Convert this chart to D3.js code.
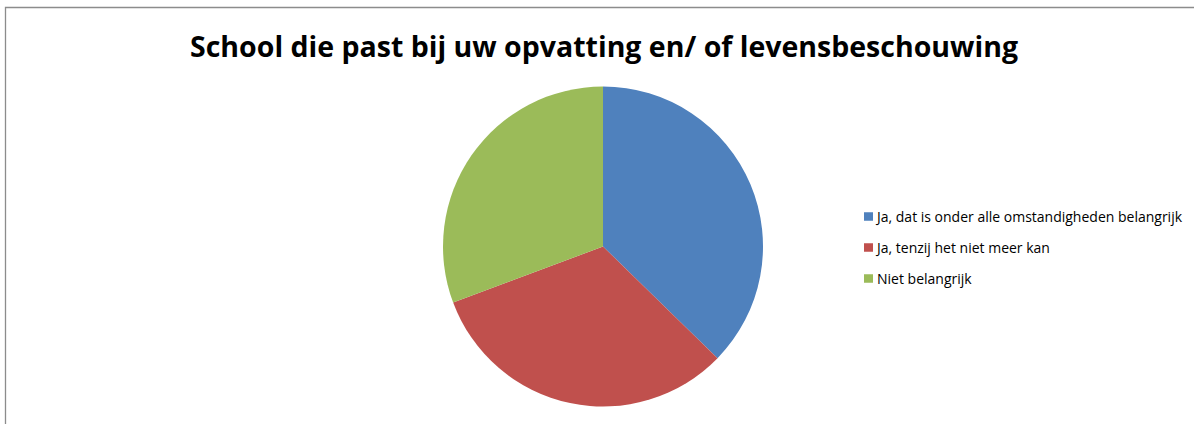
<!DOCTYPE html>
<html><head><meta charset="utf-8">
<script src="https://cdn.jsdelivr.net/npm/d3@7"></script>
<style>html,body{margin:0;padding:0;background:#fff;}svg{display:block;}</style>
</head><body>
<script>
const categories = ["Ja, dat is onder alle omstandigheden belangrijk", "Ja, tenzij het niet meer kan", "Niet belangrijk"];
const values = [37.3, 32.0, 30.7];
const colors = ["#4F81BD", "#C0504D", "#9BBB59"];
const title = "School die past bij uw opvatting en/ of levensbeschouwing";

const W = 1194, H = 424;
const svg = d3.select("body").append("svg").attr("width", W).attr("height", H);

svg.append("path").attr("d", `M5.5,${H} L5.5,7.5 L${W},7.5`).attr("fill","none").attr("stroke","#8c8c8c").attr("stroke-width",1.3);

const t = svg.append("text").attr("x", 604).attr("y", 57).attr("text-anchor","middle")
  .attr("font-family","'Open Sans', Lato, sans-serif").attr("font-weight","bold").attr("font-size", 28)
  .attr("fill","#000").text(title);
t.attr("textLength", 828).attr("lengthAdjust","spacingAndGlyphs");

const cx = 603, cy = 246.5, r = 160;
const pie = d3.pie().sort(null).value(d => d)(values);
const arc = d3.arc().innerRadius(0).outerRadius(r);
svg.append("g").attr("transform", `translate(${cx},${cy})`)
  .selectAll("path").data(pie).join("path")
  .attr("d", arc).attr("fill", (d,i) => colors[i]);

const lg = svg.append("g");
const ys = [216.5, 247.5, 278.5];
categories.forEach((c,i) => {
  lg.append("rect").attr("x", 864).attr("y", ys[i]-4.25).attr("width", 9).attr("height", 8.5).attr("fill", colors[i]);
  lg.append("text").attr("x", 877).attr("y", ys[i]+5).attr("font-family","'Open Sans', Lato, sans-serif")
    .attr("font-size", 14).attr("fill","#000").text(c);
});
</script>
</body></html>
